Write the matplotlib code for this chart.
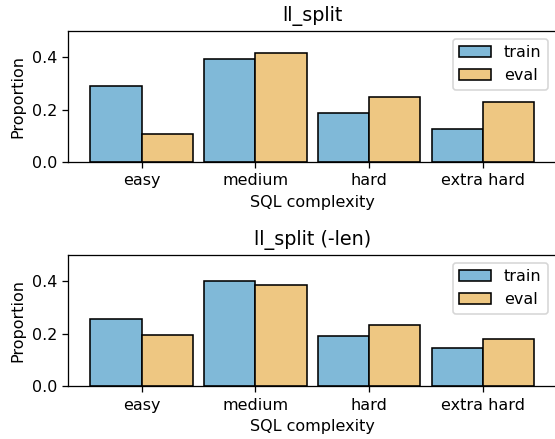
import matplotlib
matplotlib.use("Agg")
import matplotlib.pyplot as plt
import numpy as np

categories = ["easy", "medium", "hard", "extra hard"]
titles = ["ll_split", "ll_split (-len)"]
train_top = [0.290, 0.395, 0.187, 0.128]
eval_top = [0.107, 0.415, 0.249, 0.229]
train_bottom = [0.258, 0.403, 0.193, 0.146]
eval_bottom = [0.197, 0.387, 0.235, 0.181]
series_labels = ["train", "eval"]

blue = (0.502, 0.725, 0.847)
orange = (0.933, 0.780, 0.510)

DPI = 115
fig = plt.figure(figsize=(555 / DPI, 439 / DPI), dpi=DPI)
positions = [[0.1230, 0.6303, 0.8790, 0.2991], [0.1230, 0.1196, 0.8790, 0.2995]]
data = [(train_top, eval_top), (train_bottom, eval_bottom)]

for pos, (tr, ev), title in zip(positions, data, titles):
    ax = fig.add_axes(pos)
    x = np.arange(len(categories))
    w = 0.45
    ax.bar(x - w, tr, width=w, align="edge", color=blue, edgecolor="black", linewidth=1.0, label=series_labels[0])
    ax.bar(x, ev, width=w, align="edge", color=orange, edgecolor="black", linewidth=1.0, label=series_labels[1])
    ax.set_xticks(x)
    ax.set_xticklabels(categories)
    ax.set_xlim(-0.645, 3.645)
    ax.set_ylim(0, 0.5)
    ax.set_yticks([0.0, 0.2, 0.4])
    ax.set_ylabel("Proportion")
    ax.set_xlabel("SQL complexity")
    ax.set_title(title)
    ax.legend(loc="upper right")

fig.savefig("out.png", dpi=DPI)
